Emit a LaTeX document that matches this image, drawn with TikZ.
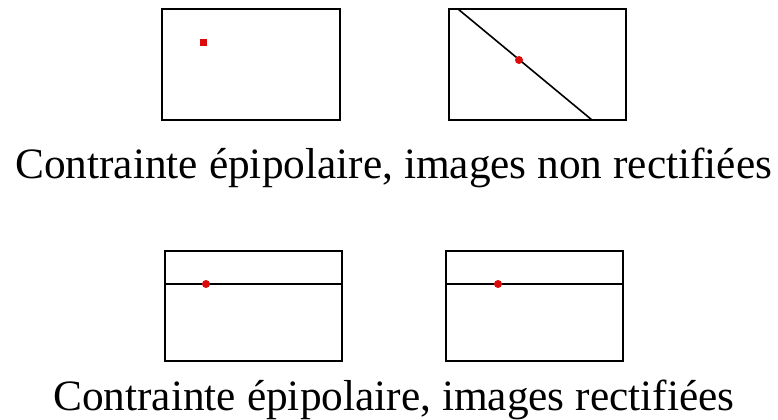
\documentclass[tikz,border=0pt]{standalone}
\usepackage{fontspec}
\setmainfont{Liberation Serif}
\begin{document}
\begin{tikzpicture}[x=0.75pt,y=-0.75pt,
  frame/.style={draw=black,line width=1.6pt},
  epi/.style={draw=black,line width=1.2pt},
  dotsq/.style={fill={rgb,255:red,220;green,10;blue,10}},
  caption/.style={anchor=base west,inner sep=0pt,font=\fontsize{32.5}{38}\selectfont}]
\useasboundingbox (0,0) rectangle (778,420);
% top left
\draw[frame] (162,9) rectangle (340,120);
\fill[dotsq] (199.5,39.5) rectangle (206.5,46.5);
% top right
\draw[frame] (449,9) rectangle (626,120);
\coordinate (d1) at (458,9);
\coordinate (d2) at (592,120);
\draw[epi] (d1) -- (d2);
\fill[dotsq] (519,60) circle (4);
\node[caption] (t1) at (15,179) {Contrainte épipolaire, images non rectifiées};
% bottom left
\draw[frame] (165,251) rectangle (342,361);
\coordinate (h1) at (165,284);
\coordinate (h2) at (342,284);
\draw[frame] (h1) -- (h2);
\fill[dotsq] (206,284) circle (4);
% bottom right
\draw[frame] (446,251) rectangle (623,361);
\coordinate (h3) at (446,284);
\coordinate (h4) at (623,284);
\draw[frame] (h3) -- (h4);
\fill[dotsq] (498,284) circle (4);
\node[caption] (t2) at (53,410) {Contrainte épipolaire, images rectifiées};
\end{tikzpicture}
\end{document}
